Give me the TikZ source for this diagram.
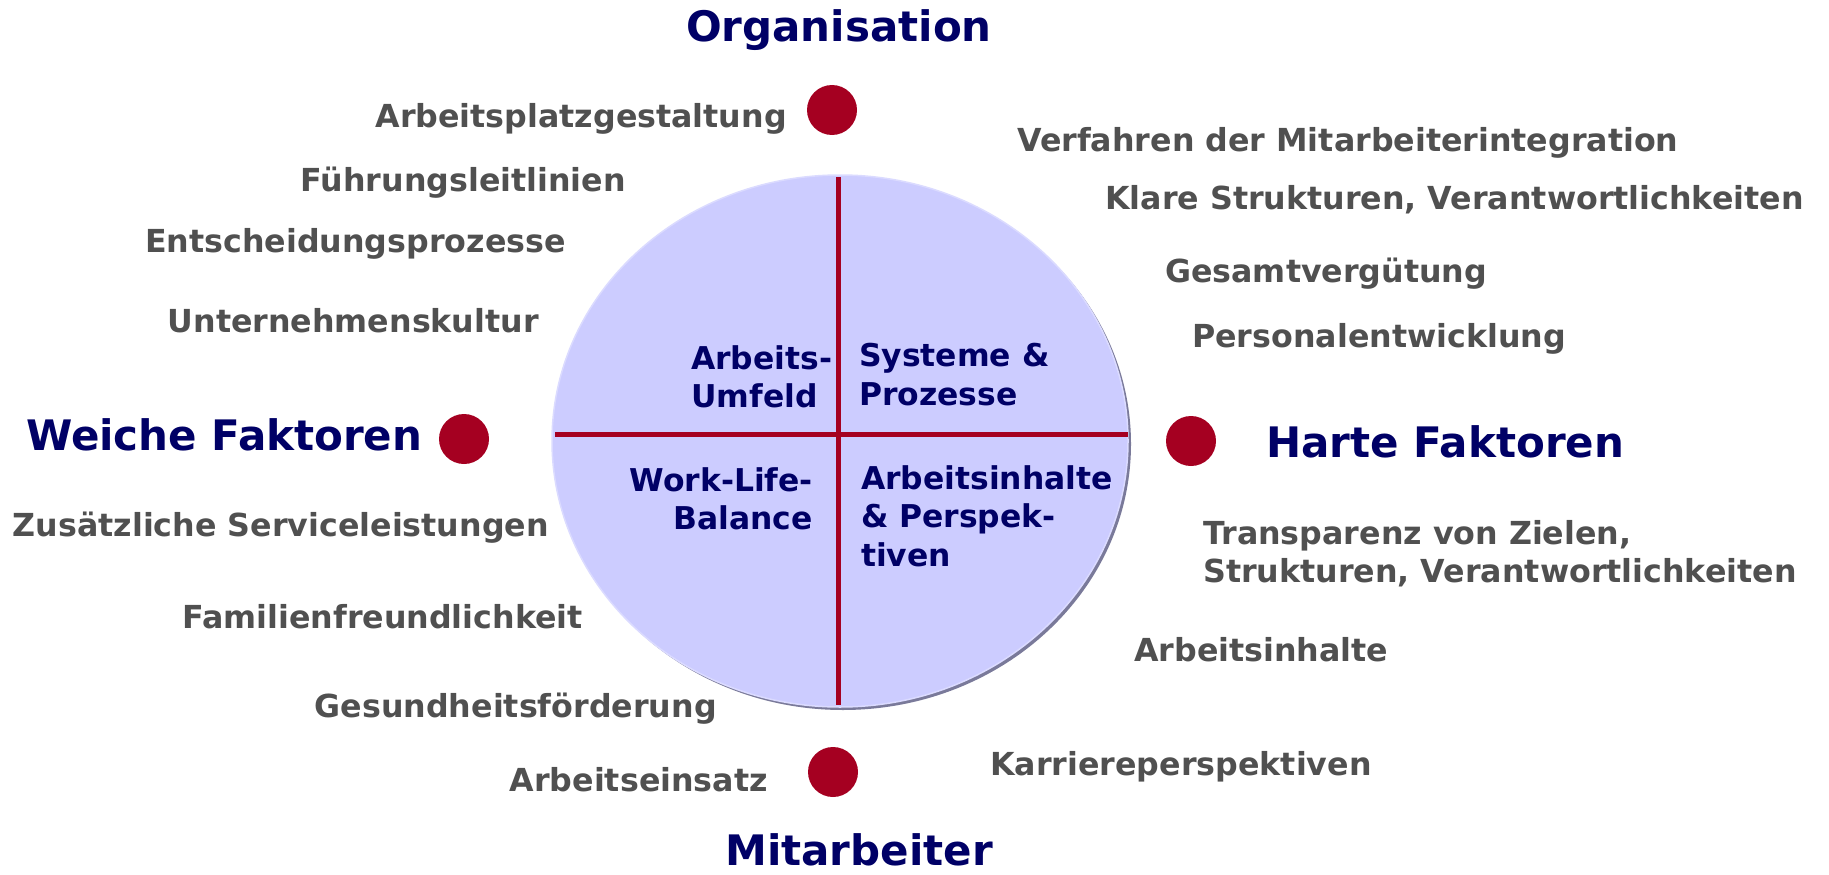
\documentclass[tikz,border=0pt]{standalone}
\usepackage{fontspec}
\setmainfont{DejaVu Sans}
\definecolor{navy}{HTML}{000066}
\definecolor{dotred}{HTML}{A50021}
\definecolor{labelgray}{HTML}{505050}
\definecolor{discfill}{HTML}{CCCCFF}
\definecolor{discshade}{HTML}{7A7A9A}
\begin{document}
\begin{tikzpicture}[x=1pt, y=-1pt,
    title/.style={text=navy, font=\bfseries\fontsize{42}{48}\selectfont, inner sep=0},
    item/.style={text=labelgray, font=\bfseries\fontsize{31.7}{38}\selectfont, inner sep=0},
    field/.style={text=navy, font=\bfseries\fontsize{31.4}{38.5}\selectfont, inner sep=0},
    spot/.style={circle, fill=dotred, minimum size=50, inner sep=0}]
    \useasboundingbox (0,0) rectangle (1829,875);

    % Disc with the four fields
    \fill[discshade] (843,444) ellipse (288 and 266);
    \fill[discfill, draw=discfill!70!white, line width=1.5] (840,441) ellipse (288 and 266);
    \draw[dotred, line width=5] (838,177) -- (838,705);
    \draw[dotred, line width=5] (555,434) -- (1128,434);
    \node[field, align=left, anchor=north west] (umfeld) at (691,345) {Arbeits-\\Umfeld};
    \node[field, align=left, anchor=north west] (systeme) at (859,343) {Systeme \&\\Prozesse};
    \node[field, align=right, anchor=north east] (balance) at (813,467) {Work-Life-\\Balance};
    \node[field, align=left, anchor=north west] (inhalte) at (861,465) {Arbeitsinhalte\\\& Perspek-\\tiven};

    % Axes: dots and titles
    \node[spot] (dtop) at (832,110) {};
    \node[spot] (dleft) at (464,439) {};
    \node[spot] (dright) at (1191,441) {};
    \node[spot] (dbottom) at (833,772) {};
    \node[title, anchor=base] (org) at (839,42) {Organisation};
    \node[title, anchor=mid west] (weich) at (26,448) {Weiche Faktoren};
    \node[title, anchor=mid west] (hart) at (1266,455) {Harte Faktoren};
    \node[title, anchor=base] (mitarb) at (859,865) {Mitarbeiter};

    % Soft factors (left)
    \foreach \i/\x/\y/\t in {1/787/125/Arbeitsplatzgestaltung, 2/626/189/Führungsleitlinien,
        3/566/250/Entscheidungsprozesse, 4/539/330/Unternehmenskultur,
        5/549/534/Zusätzliche Serviceleistungen, 6/583/626/Familienfreundlichkeit,
        7/717/715/Gesundheitsförderung, 8/768/789/Arbeitseinsatz}
        \node[item, anchor=mid east] (soft\i) at (\x,\y) {\t};

    % Hard factors (right)
    \foreach \i/\x/\y/\t in {1/1017/149/Verfahren der Mitarbeiterintegration,
        2/1105/207/{Klare Strukturen, Verantwortlichkeiten}, 3/1165/280/Gesamtvergütung,
        4/1192/345/Personalentwicklung, 6/1134/659/Arbeitsinhalte, 7/990/773/Karriereperspektiven}
        \node[item, anchor=mid west] (hard\i) at (\x,\y) {\t};
    \node[item, align=left, anchor=north west] (hard5) at (1203,520) {Transparenz von Zielen,\\Strukturen, Verantwortlichkeiten};
\end{tikzpicture}
\end{document}
